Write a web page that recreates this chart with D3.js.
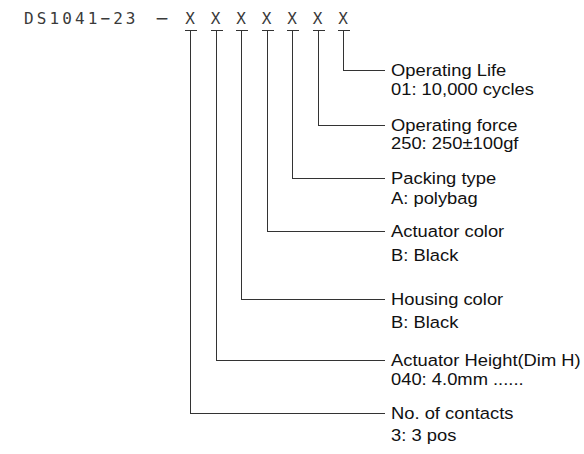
<!DOCTYPE html>
<html>
<head>
<meta charset="utf-8">
<script src="https://cdn.jsdelivr.net/npm/d3@7"></script>
<style>
body { margin: 0; background: #fff; }
</style>
</head>
<body>
<svg id="chart" width="584" height="454"></svg>
<script>
// part number breakdown, fields listed left to right under the X's
var prefix = "DS1041\u221223";
var placeholder = "X";
var fields = ["No. of contacts", "Actuator Height(Dim H)", "Housing color", "Actuator color",
              "Packing type", "Operating force", "Operating Life"];
var codes = ["3: 3 pos", "040: 4.0mm ......", "B: Black", "B: Black",
             "A: polybag", "250: 250\u00b1100gf", "01: 10,000 cycles"];

var svg = d3.select("#chart");

// layout: y of each leader elbow and the gap down to the code line
var rowY = [413, 360, 298.5, 231, 178, 124.5, 70];
var codeGap = [22, 18.5, 23, 24, 19.5, 18.5, 18.5];
var lineEnd = 385, textX = 391;

var x = d3.scalePoint()
    .domain(d3.range(fields.length))
    .range([190, 343]);

var head = svg.append("g")
    .attr("font-family", "DejaVu Sans Mono, monospace")
    .attr("font-size", 16)
    .attr("fill", "#3a3a3a");

head.append("text")
    .attr("x", 24)
    .attr("y", 24)
    .attr("letter-spacing", 3.1)
    .text(prefix);

head.append("text")
    .attr("x", 162)
    .attr("y", 24)
    .attr("text-anchor", "middle")
    .attr("transform", "translate(162,0) scale(1.3,1) translate(-162,0)")
    .text("\u2212");

head.selectAll(".ph")
    .data(fields)
    .enter().append("text")
    .attr("class", "ph")
    .attr("x", function(d, i) { return x(i); })
    .attr("y", 24)
    .attr("text-anchor", "middle")
    .text(placeholder);

var leaders = svg.append("g")
    .attr("fill", "none")
    .attr("stroke", "#333")
    .attr("stroke-width", 1)
    .attr("shape-rendering", "crispEdges");

leaders.selectAll("path")
    .data(fields)
    .enter().append("path")
    .attr("d", function(d, i) {
        var cx = Math.round(x(i)) + 0.5, y = Math.round(rowY[i]) + 0.5;
        return "M" + (cx - 6) + ",30.5H" + (cx + 6) +
               "M" + cx + ",30.5V" + y + "H" + lineEnd;
    });

// labels are a touch wider than plain Arial in the original
var labels = svg.append("g")
    .attr("transform", "translate(" + textX + ",0) scale(1.08,1)")
    .attr("font-family", "Liberation Sans, Arial, sans-serif")
    .attr("font-size", 17)
    .attr("fill", "#111");

labels.selectAll(".name")
    .data(fields)
    .enter().append("text")
    .attr("class", "name")
    .attr("x", 0)
    .attr("y", function(d, i) { return rowY[i] + 6.5; })
    .text(function(d) { return d; });

labels.selectAll(".code")
    .data(codes)
    .enter().append("text")
    .attr("class", "code")
    .attr("x", 0)
    .attr("y", function(d, i) { return rowY[i] + 6.5 + codeGap[i]; })
    .text(function(d) { return d; });
</script>
</body>
</html>
